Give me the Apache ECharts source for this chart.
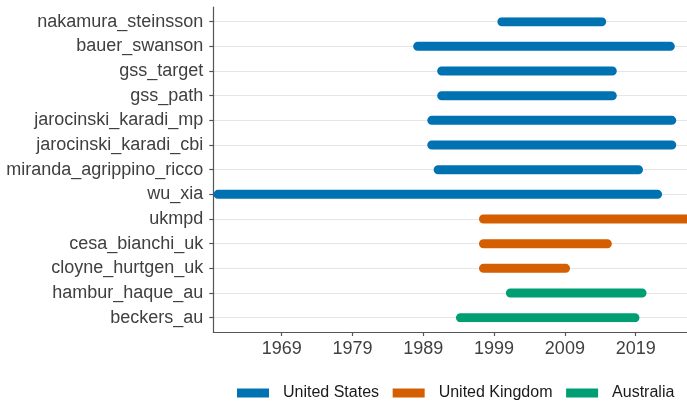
<!DOCTYPE html>
<html>
<head>
<meta charset="utf-8">
<script src="https://cdn.jsdelivr.net/npm/echarts@6/dist/echarts.min.js"></script>
<style>
html,body{margin:0;padding:0;background:#fff;}
#chart{width:687px;height:401px;}
</style>
</head>
<body>
<div id="chart"></div>
<script>
const categories = ["nakamura_steinsson","bauer_swanson","gss_target","gss_path","jarocinski_karadi_mp","jarocinski_karadi_cbi","miranda_agrippino_ricco","wu_xia","ukmpd","cesa_bianchi_uk","cloyne_hurtgen_uk","hambur_haque_au","beckers_au"];
const countries = ["United States","United States","United States","United States","United States","United States","United States","United States","United Kingdom","United Kingdom","United Kingdom","Australia","Australia"];
const startYear = [2000.1, 1988.2, 1991.6, 1991.6, 1990.2, 1990.2, 1991.1, 1960.0, 1997.5, 1997.5, 1997.5, 2001.3, 1994.25];
const endYear   = [2014.2, 2023.9, 2015.7, 2015.7, 2024.1, 2024.1, 2019.4, 2022.1, 2027.5, 2015.0, 2009.1, 2019.9, 2018.9];
const countryNames = ["United States","United Kingdom","Australia"];
const countryColors = ["#0072B2","#D55E00","#009E73"];
const tickYears = [1969,1979,1989,1999,2009,2019];

const xMin = 1959.34, xMax = 2026.25;
const FONT = "Liberation Sans";

const series = countryNames.map((c, ci) => {
  const data = [];
  categories.forEach((cat, i) => {
    if (countries[i] !== c) return;
    data.push([startYear[i], cat]);
    data.push([endYear[i], cat]);
    data.push('-');
  });
  return {
    name: c, type: 'line', xAxisIndex: 0, yAxisIndex: 0,
    data: data, showSymbol: false, symbol: 'none', connectNulls: false,
    clip: true, animation: false,
    lineStyle: {color: countryColors[ci], width: 9, cap: 'round'},
    itemStyle: {color: countryColors[ci]}
  };
});

const chart = echarts.init(document.getElementById('chart'), null, {renderer: 'canvas'});
chart.setOption({
  animation: false,
  textStyle: {fontFamily: FONT},
  grid: [
    {left: 213.3, right: 0, top: 21.7, height: 296, containLabel: false},
    {left: 213.3, right: 0, top: 7, height: 325, containLabel: false}
  ],
  xAxis: [
    {gridIndex: 0, type: 'value', min: xMin, max: xMax, show: false, splitLine: {show: false}},
    {gridIndex: 1, type: 'value', min: xMin, max: xMax,
     axisLine: {show: true, onZero: false, lineStyle: {color: '#555', width: 1.2}},
     axisTick: {show: true, customValues: tickYears, length: 4, lineStyle: {color: '#555', width: 1.2}},
     axisLabel: {customValues: tickYears, formatter: v => String(v), color: '#404040', fontSize: 18, fontFamily: FONT, margin: 8},
     splitLine: {show: false}}
  ],
  yAxis: [
    {gridIndex: 0, type: 'category', data: categories, inverse: true, boundaryGap: false,
     axisLine: {show: false},
     axisTick: {show: true, length: 4, inside: false, lineStyle: {color: '#555', width: 1.2}},
     axisLabel: {color: '#404040', fontSize: 18, fontFamily: FONT, margin: 10},
     splitLine: {show: true, lineStyle: {color: '#e6e6e6', width: 1.2}}},
    {gridIndex: 1, type: 'value', min: 0, max: 1,
     axisLine: {show: true, onZero: false, lineStyle: {color: '#555', width: 1.2}},
     axisTick: {show: false}, axisLabel: {show: false}, splitLine: {show: false}}
  ],
  legend: {
    data: countryNames.map(n => ({name: n, icon: 'rect'})),
    left: 232, top: 380, orient: 'horizontal',
    itemWidth: 32, itemHeight: 9, itemGap: 13.6,
    textStyle: {color: '#1a1a1a', fontSize: 16, fontFamily: FONT, padding: [0, 0, 0, 9]}
  },
  series: series
});
</script>
</body>
</html>
